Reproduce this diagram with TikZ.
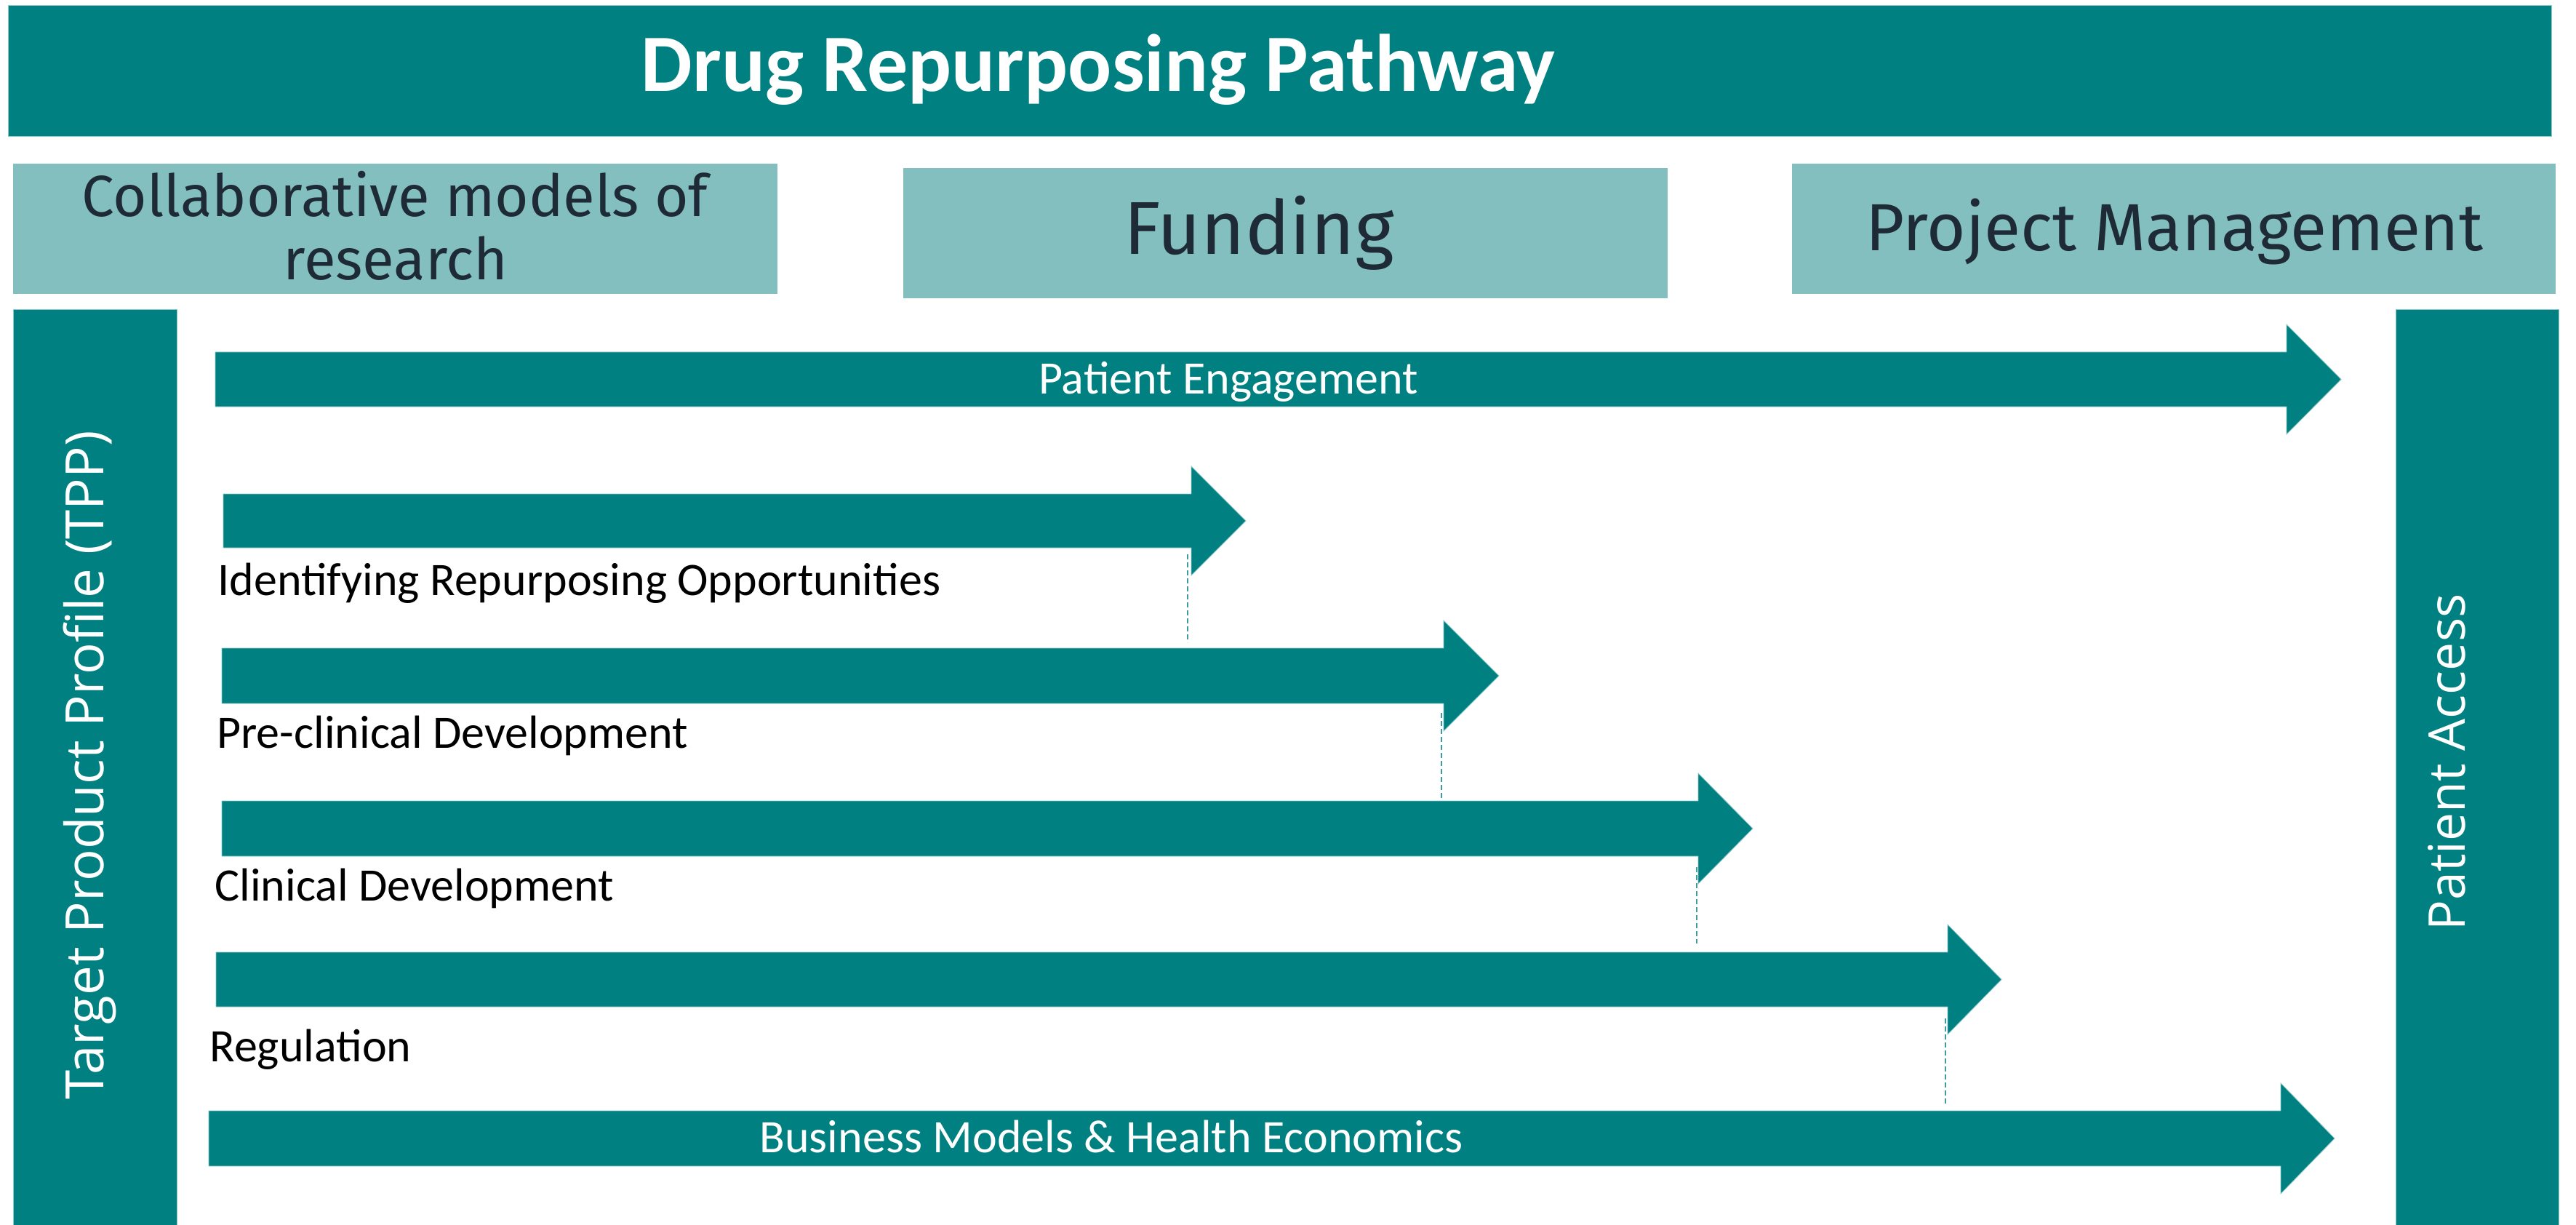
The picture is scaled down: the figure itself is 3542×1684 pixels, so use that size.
\documentclass[tikz,border=0pt]{standalone}
\usepackage{fontspec}
\setmainfont{Carlito}
\newfontfamily\hdrfont{Fira Sans}
\newfontfamily\sidefont{Open Sans}
\definecolor{tealdark}{HTML}{008080}
\definecolor{teallight}{HTML}{83BFBF}
\definecolor{tealedge}{HTML}{8CC8C8}
\definecolor{hdrtext}{HTML}{1E2B37}
\definecolor{dashcol}{HTML}{3E9C9C}
\newcommand{\fatarrow}[6]{%
  \fill[bar] (#2,#5) -- (#3,#5) -- (#3,#5-38) -- (#4,{(#5+#6)/2}) -- (#3,#6+38) -- (#3,#6) -- (#2,#6) -- cycle;
  \coordinate (#1-tip) at (#4,{(#5+#6)/2});
}
\begin{document}
\begin{tikzpicture}[x=0.5pt,y=-0.5pt,
  bar/.style={fill=tealdark, draw=tealedge, line width=0.4pt},
  hdrbox/.style={fill=teallight},
  lbl/.style={font=\fontsize{32}{36}\selectfont, inner sep=0pt, anchor=base west, text=black},
  inlbl/.style={font=\fontsize{32}{36}\selectfont, inner sep=0pt, anchor=base, text=white},
  side/.style={font=\sidefont\fontsize{36}{40}\selectfont, text=white, rotate=90, anchor=base, inner sep=0pt},
  hdr/.style={text=hdrtext, anchor=base, inner sep=0pt},
  link/.style={draw=dashcol, line width=1pt, dash pattern=on 3.5pt off 2pt}
]
\useasboundingbox (0,0) rectangle (3542,1684);
\fill[white] (0,0) rectangle (3542,1684);

% title bar
\fill[bar] (11,7) rectangle (3508,187);
\node[anchor=base, inner sep=0pt, text=white, font=\bfseries\fontsize{56}{60}\selectfont] (title) at (1510,126) {Drug Repurposing Pathway};

% header boxes
\fill[hdrbox] (18,225) rectangle (1069,404);
\fill[hdrbox] (1242,231) rectangle (2293,410);
\fill[hdrbox] (2464,225) rectangle (3514,404);
\node[hdr, font=\hdrfont\fontsize{39.9}{44}\selectfont] (collabA) at (543,298) {Collaborative models of};
\node[hdr, font=\hdrfont\fontsize{39.9}{44}\selectfont] (collabB) at (544,385) {research};
\node[hdr, font=\hdrfont\fontsize{51.5}{56}\selectfont] (funding) at (1731,350) {Funding};
\node[hdr, font=\hdrfont\fontsize{45.8}{50}\selectfont] (pm) at (2990,345) {Project Management};

% side bars
\fill[bar] (18,425) rectangle (243,1684);
\fill[bar] (3294,425) rectangle (3518,1684);
\node[side, font=\sidefont\fontsize{36.3}{40}\selectfont] (tpp) at (142,1052) {Target Product Profile (TPP)};
\node[side, font=\sidefont\fontsize{34.8}{40}\selectfont] (access) at (3389,1048) {Patient Access};

% arrows
\fatarrow{pe}{296}{3144}{3219}{484}{559}
\fatarrow{id}{307}{1638}{1713}{679}{753}
\fatarrow{pc}{305}{1985}{2061}{891}{967}
\fatarrow{cd}{305}{2335}{2410}{1101}{1177}
\fatarrow{rg}{297}{2678}{2752}{1309}{1384}
\fatarrow{bm}{287}{3136}{3210}{1527}{1603}

\node[inlbl] (peText) at (1689,541) {Patient Engagement};
\node[lbl] (idText) at (299,818) {Identifying Repurposing Opportunities};
\node[lbl] (pcText) at (298,1028) {Pre-clinical Development};
\node[lbl] (cdText) at (295,1238) {Clinical Development};
\node[lbl] (rgText) at (288,1459) {Regulation};
\node[inlbl] (bmText) at (1528,1584) {Business Models \& Health Economics};

% dashed links
\coordinate (idA) at (1633,762);  \coordinate (idB) at (1633,883);
\coordinate (pcA) at (1982,980);  \coordinate (pcB) at (1982,1098);
\coordinate (cdA) at (2333,1192); \coordinate (cdB) at (2333,1297);
\coordinate (rgA) at (2675,1400); \coordinate (rgB) at (2675,1517);
\draw[link] (idA) -- (idB);
\draw[link] (pcA) -- (pcB);
\draw[link] (cdA) -- (cdB);
\draw[link] (rgA) -- (rgB);
\end{tikzpicture}
\end{document}
